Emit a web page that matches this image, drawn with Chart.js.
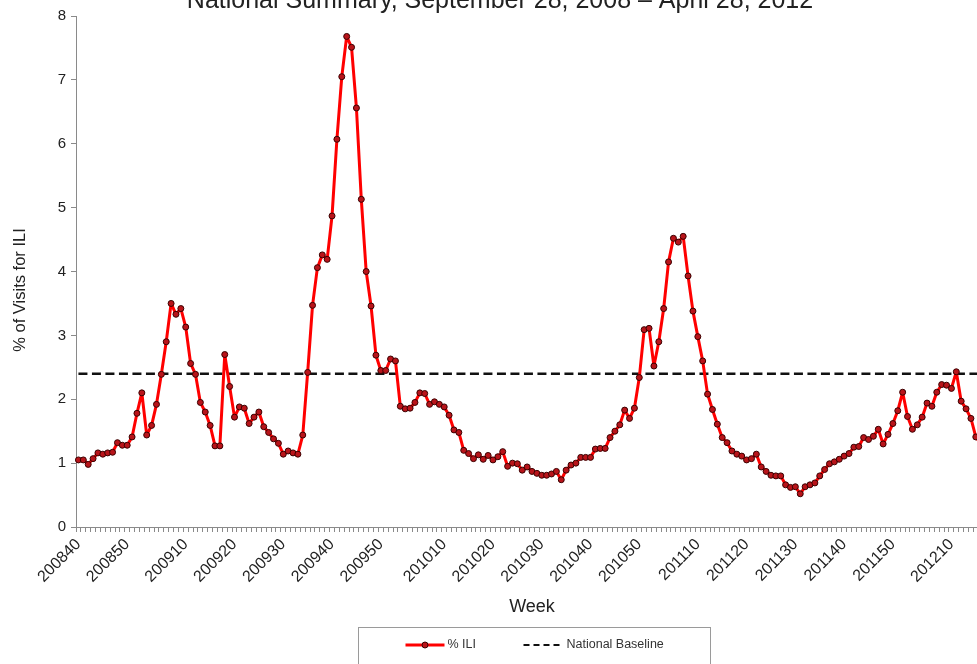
<!DOCTYPE html>
<html>
<head>
<meta charset="utf-8">
<title>ILINet National Summary</title>
<script src="https://cdn.jsdelivr.net/npm/chart.js@4.4.1/dist/chart.umd.min.js"></script>
<style>
  html, body { margin: 0; padding: 0; background: #fff; overflow: hidden; }
  #frame { position: relative; width: 977px; height: 664px; overflow: hidden; background: #fff; }
  #chart { position: absolute; left: 0; top: 0; }
</style>
</head>
<body>
<div id="frame"><canvas id="chart" width="1066" height="680"></canvas></div>
<script>
// MMWR weeks per year (2009 had a week 53)
const weeksInYear = { 2008: 52, 2009: 53, 2010: 52, 2011: 52, 2012: 52 };

// Categories: 200840 .. 201217
const weeks = [];
for (let y = 2008; y <= 2012; y++) {
  const start = y === 2008 ? 40 : 1;
  const end = y === 2012 ? 17 : weeksInYear[y];
  for (let w = start; w <= end; w++) {
    weeks.push(String(y) + String(w).padStart(2, "0"));
  }
}

const tickLabels = [
  "200840", "200850", "200910", "200920", "200930", "200940", "200950",
  "201010", "201020", "201030", "201040", "201050",
  "201110", "201120", "201130", "201140", "201150", "201210"
];

// % ILI (one value per week)
const iliValues = [
  1.05, 1.05, 0.98, 1.07, 1.16, 1.14, 1.16, 1.17, 1.32, 1.28,
  1.28, 1.41, 1.78, 2.10, 1.44, 1.59, 1.92, 2.39, 2.90, 3.50,
  3.33, 3.42, 3.13, 2.56, 2.39, 1.95, 1.80, 1.59, 1.27, 1.27,
  2.70, 2.20, 1.72, 1.88, 1.86, 1.62, 1.72, 1.80, 1.57, 1.48,
  1.38, 1.31, 1.14, 1.19, 1.16, 1.14, 1.44, 2.42, 3.47, 4.06,
  4.26, 4.19, 4.87, 6.07, 7.05, 7.68, 7.51, 6.56, 5.13, 4.00,
  3.46, 2.69, 2.45, 2.45, 2.63, 2.60, 1.89, 1.85, 1.86, 1.95,
  2.10, 2.09, 1.92, 1.96, 1.92, 1.88, 1.75, 1.52, 1.48, 1.20,
  1.15, 1.07, 1.13, 1.06, 1.12, 1.05, 1.10, 1.18, 0.95, 1.00,
  0.99, 0.89, 0.94, 0.87, 0.84, 0.81, 0.81, 0.83, 0.87, 0.74,
  0.89, 0.97, 1.00, 1.09, 1.09, 1.09, 1.22, 1.23, 1.23, 1.40,
  1.50, 1.60, 1.83, 1.70, 1.86, 2.34, 3.09, 3.11, 2.52, 2.90,
  3.42, 4.15, 4.52, 4.46, 4.55, 3.93, 3.38, 2.98, 2.60, 2.08,
  1.84, 1.61, 1.40, 1.32, 1.19, 1.14, 1.11, 1.05, 1.07, 1.14,
  0.94, 0.87, 0.81, 0.80, 0.80, 0.66, 0.62, 0.63, 0.52, 0.63,
  0.66, 0.69, 0.80, 0.90, 0.99, 1.02, 1.06, 1.11, 1.15, 1.25,
  1.26, 1.40, 1.37, 1.42, 1.53, 1.30, 1.45, 1.62, 1.82, 2.11,
  1.73, 1.53, 1.60, 1.72, 1.94, 1.89, 2.11, 2.23, 2.22, 2.17,
  2.43, 1.97, 1.85, 1.70, 1.41, 1.30, 1.20
];

const nationalBaseline = 2.4;
const yTicks = [0, 1, 2, 3, 4, 5, 6, 7, 8];

const chartTitle = "National Summary, September 28, 2008 \u2013 April 28, 2012";
const yTitle = "% of Visits for ILI";
const xTitle = "Week";

const FONT = '"Liberation Sans", Arial, sans-serif';
const TEXT = "#222222";
const AXIS = "#8a8a8a";

Chart.defaults.font.family = FONT;
Chart.defaults.color = TEXT;

// Title (partly cut by the top edge), y title and boxed legend
const frameText = {
  id: "frameText",
  afterDraw(chart) {
    const ctx = chart.ctx;
    const area = chart.chartArea;
    ctx.save();

    ctx.fillStyle = "#222";
    ctx.font = "25px " + FONT;
    ctx.textAlign = "center";
    ctx.textBaseline = "alphabetic";
    ctx.fillText(chartTitle, 500, 7.5);

    ctx.save();
    ctx.translate(20, 290);
    ctx.rotate(-Math.PI / 2);
    ctx.font = "16.5px " + FONT;
    ctx.textBaseline = "middle";
    ctx.fillStyle = TEXT;
    ctx.fillText(yTitle, 0, 0);
    ctx.restore();

    // legend
    const cx = (area.left + area.right) / 2 + 1.5;
    const top = 627.5;
    const ly = 645;
    ctx.strokeStyle = "#9a9a9a";
    ctx.lineWidth = 1;
    ctx.strokeRect(Math.round(cx - 176) + 0.5, top, 352, 60);

    const ili = chart.data.datasets[0];
    const base = chart.data.datasets[1];

    ctx.strokeStyle = ili.borderColor;
    ctx.lineWidth = ili.borderWidth;
    ctx.beginPath();
    ctx.moveTo(cx - 128, ly);
    ctx.lineTo(cx - 89, ly);
    ctx.stroke();
    ctx.beginPath();
    ctx.arc(cx - 108.5, ly, ili.pointRadius, 0, Math.PI * 2);
    ctx.fillStyle = ili.pointBackgroundColor;
    ctx.fill();
    ctx.lineWidth = ili.pointBorderWidth;
    ctx.strokeStyle = ili.pointBorderColor;
    ctx.stroke();

    ctx.strokeStyle = base.borderColor;
    ctx.lineWidth = 2;
    ctx.setLineDash([6, 4]);
    ctx.beginPath();
    ctx.moveTo(cx - 10, ly);
    ctx.lineTo(cx + 30, ly);
    ctx.stroke();
    ctx.setLineDash([]);

    ctx.fillStyle = "#333";
    ctx.font = "12.5px " + FONT;
    ctx.textAlign = "left";
    ctx.textBaseline = "middle";
    ctx.fillText(ili.label, cx - 86, ly);
    ctx.fillText(base.label, cx + 33, ly);

    ctx.restore();
  }
};

const ctx = document.getElementById("chart").getContext("2d");

new Chart(ctx, {
  type: "line",
  data: {
    labels: weeks,
    datasets: [
      {
        label: "% ILI",
        data: iliValues,
        borderColor: "#ff0000",
        borderWidth: 3,
        borderJoinStyle: "round",
        pointRadius: 3,
        pointBackgroundColor: "#b8141a",
        pointBorderColor: "#3a0000",
        pointBorderWidth: 1,
        tension: 0,
        order: 0
      },
      {
        label: "National Baseline",
        data: weeks.map(() => nationalBaseline),
        borderColor: "#111111",
        borderWidth: 2.5,
        borderDash: [9, 4.5],
        pointRadius: 0,
        tension: 0,
        order: 1
      }
    ]
  },
  options: {
    responsive: false,
    animation: false,
    events: [],
    layout: { padding: { left: 0, right: 78, top: 16, bottom: 53 } },
    plugins: {
      legend: { display: false },
      title: { display: false },
      tooltip: { enabled: false }
    },
    scales: {
      x: {
        type: "category",
        offset: true,
        grid: {
          display: true,
          drawOnChartArea: false,
          drawTicks: true,
          tickLength: 5,
          offset: true,
          color: AXIS
        },
        border: { display: true, color: AXIS, width: 1 },
        ticks: {
          autoSkip: false,
          maxRotation: 45,
          minRotation: 45,
          padding: 3,
          color: TEXT,
          font: { size: 16 },
          callback: function (value) {
            const w = this.getLabelForValue(value);
            return tickLabels.includes(w) ? w : "";
          }
        },
        title: {
          display: true,
          text: xTitle,
          color: TEXT,
          font: { size: 18 },
          padding: { top: 4, bottom: 9 }
        },
        afterFit: (scale) => { scale.height = 100; }
      },
      y: {
        min: yTicks[0],
        max: yTicks[yTicks.length - 1],
        grid: {
          display: true,
          drawOnChartArea: false,
          drawTicks: true,
          tickLength: 5,
          color: AXIS
        },
        border: { display: true, color: AXIS, width: 1 },
        afterBuildTicks: (scale) => { scale.ticks = yTicks.map((v) => ({ value: v })); },
        ticks: {
          padding: 5,
          color: TEXT,
          font: { size: 15 }
        },
        afterFit: (scale) => { scale.width = 76; }
      }
    }
  },
  plugins: [frameText]
});
</script>
</body>
</html>
